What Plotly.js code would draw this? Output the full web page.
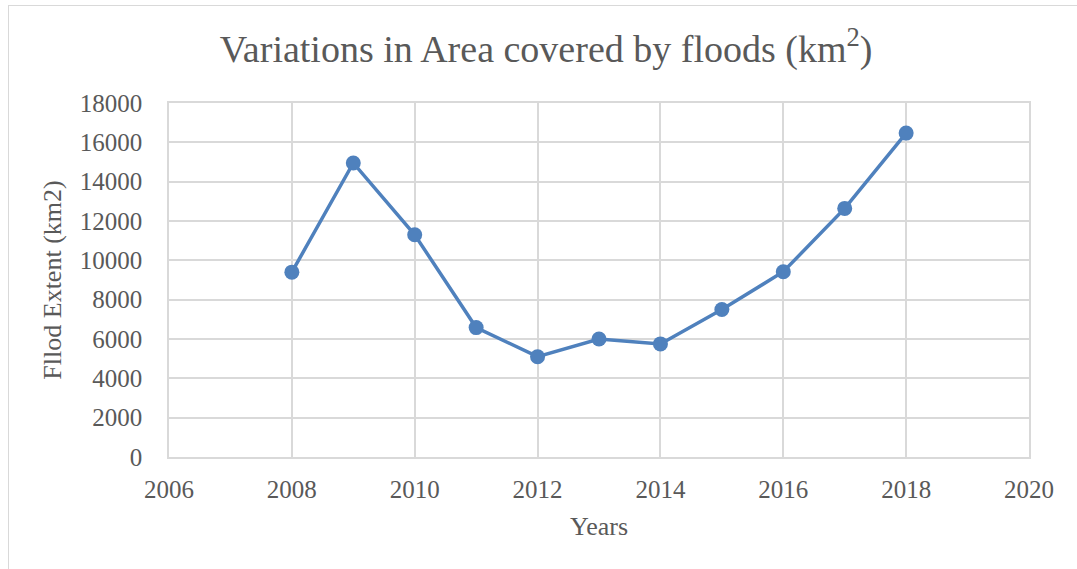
<!DOCTYPE html>
<html>
<head>
<meta charset="utf-8">
<script src="https://cdn.plot.ly/plotly-3.0.1.min.js"></script>
<style>
  html, body { margin: 0; padding: 0; background: #ffffff; overflow: hidden; }
  #chart { width: 1077px; height: 569px; }
  #frame {
    position: absolute; left: 8px; top: 5px; width: 2000px; height: 2000px;
    border-left: 1px solid #d9d9d9; border-top: 1px solid #d9d9d9;
    pointer-events: none;
  }
</style>
</head>
<body>
<div id="chart"></div>
<div id="frame"></div>
<script>
// Yearly flood extent (km2)
const years = [2008, 2009, 2010, 2011, 2012, 2013, 2014, 2015, 2016, 2017, 2018];
const floodExtent = [9400, 14950, 11300, 6580, 5100, 6000, 5750, 7500, 9420, 12640, 16470];

const xTicks = [2006, 2008, 2010, 2012, 2014, 2016, 2018, 2020];
const yTicks = [0, 2000, 4000, 6000, 8000, 10000, 12000, 14000, 16000, 18000];

const textColor = '#595959';
const gridColor = '#d9d9d9';
const serif = 'Liberation Serif, Times New Roman, serif';

const trace = {
  x: years,
  y: floodExtent,
  type: 'scatter',
  mode: 'lines+markers',
  line: { color: '#4f81bd', width: 3.5 },
  marker: { color: '#4f81bd', size: 15 },
  hoverinfo: 'x+y'
};

const layout = {
  width: 1077,
  height: 569,
  margin: { l: 169, r: 48, t: 103, b: 112 },
  paper_bgcolor: '#ffffff',
  plot_bgcolor: '#ffffff',
  showlegend: false,
  font: { family: serif, color: textColor },
  title: {
    text: 'Variations in Area covered by floods (km<sup>2</sup>)',
    font: { family: serif, size: 38, color: textColor },
    xref: 'container', x: 0.507, xanchor: 'center',
    yref: 'container', y: 1 - 49 / 569, yanchor: 'middle'
  },
  xaxis: {
    range: [2006, 2020],
    tickmode: 'array',
    tickvals: xTicks,
    ticktext: xTicks.map(String),
    showgrid: true, gridcolor: gridColor, gridwidth: 1.5,
    zeroline: false,
    showline: true, linecolor: gridColor, linewidth: 1.5, mirror: true,
    ticks: '',
    ticklabelstandoff: 9,
    tickfont: { family: serif, size: 25, color: textColor },
    title: { text: 'Years', font: { family: serif, size: 26, color: textColor }, standoff: 15 },
    fixedrange: true
  },
  yaxis: {
    range: [0, 18000],
    tickmode: 'array',
    tickvals: yTicks,
    ticktext: yTicks.map(String),
    showgrid: true, gridcolor: gridColor, gridwidth: 1.5,
    zeroline: false,
    showline: true, linecolor: gridColor, linewidth: 1.5, mirror: true,
    ticks: '',
    ticklabelstandoff: 20,
    tickfont: { family: serif, size: 25, color: textColor },
    title: { text: 'Fllod Extent (km2)', font: { family: serif, size: 26, color: textColor }, standoff: 11 },
    fixedrange: true
  }
};

Plotly.newPlot('chart', [trace], layout, { displayModeBar: false });
</script>
</body>
</html>
